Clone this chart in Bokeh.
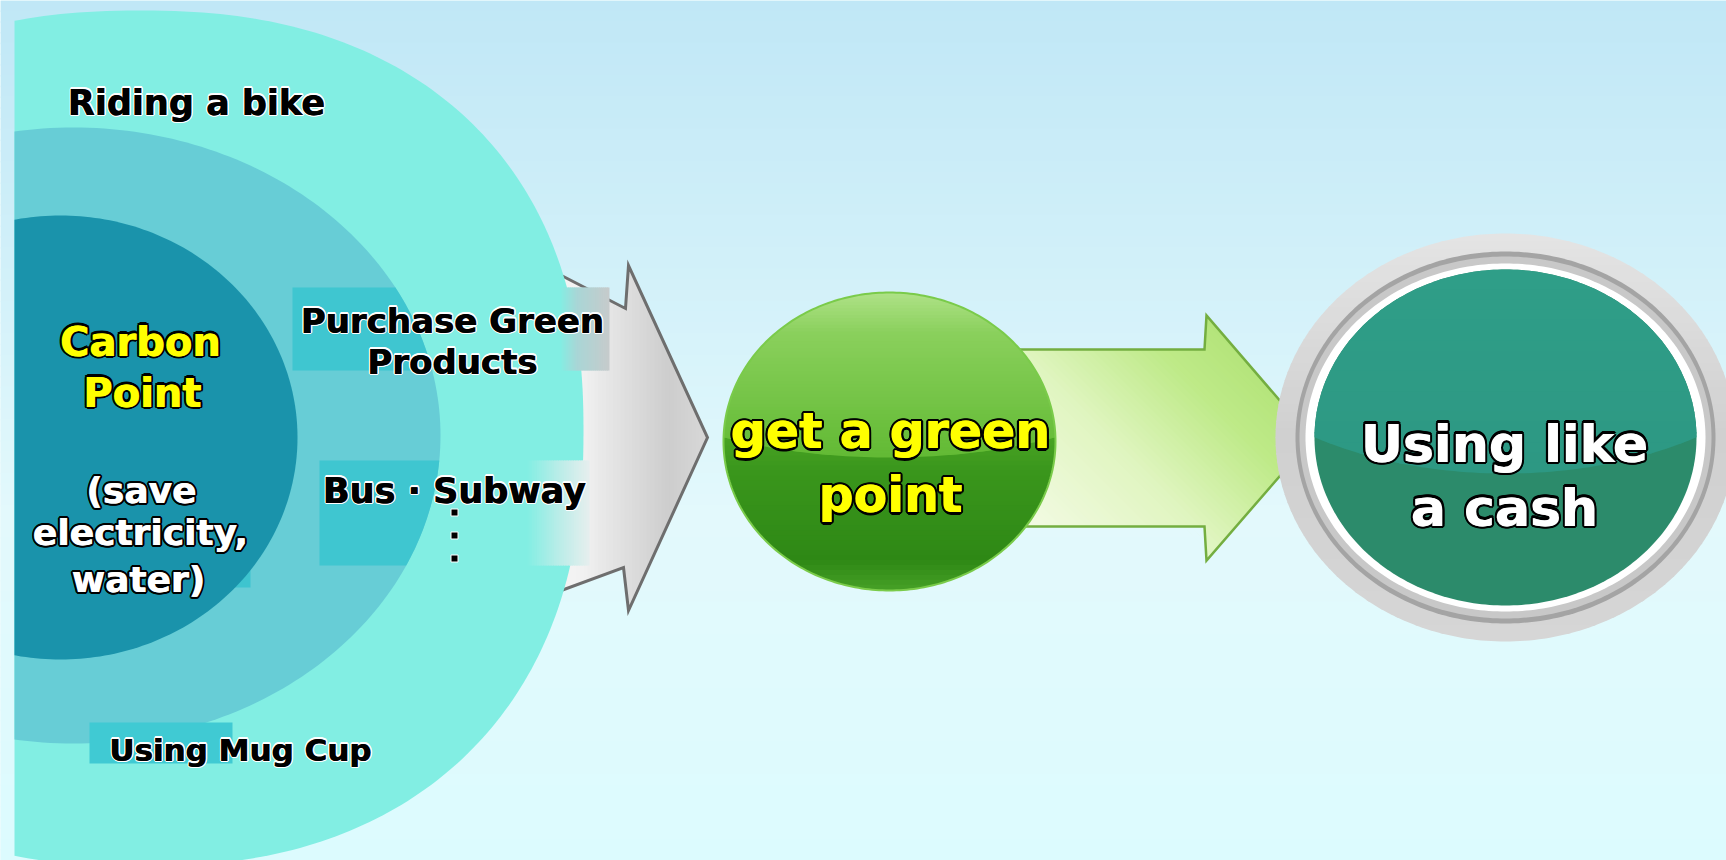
import numpy as np
from bokeh.plotting import figure
from bokeh.models import Range1d, ColumnDataSource
from bokeh.core.properties import value
from bokeh.embed import file_html
from bokeh.resources import INLINE

# ---------------- content ----------------
ring_labels = ["Riding a bike", "Purchase Green", "Products", "Bus · Subway", "Using Mug Cup"]
core_title = ["Carbon", "Point"]
core_note = ["(save", "electricity,", "water)"]
ball_label = ["get a green", "point"]
coin_label = ["Using like", "a cash"]

FONT = "DejaVu Sans"
W, H = 1726, 860
p = figure(width=W, height=H, x_range=Range1d(0, W), y_range=Range1d(H, 0),
           output_backend="svg", toolbar_location=None, min_border=0,
           x_axis_location=None, y_axis_location=None)
p.grid.visible = False
p.outline_line_color = None
p.background_fill_color = "#DDF8FC"
p.border_fill_color = "#DDF8FC"


# ---------------- helpers ----------------
def hex2rgb(h):
    h = h.lstrip('#')
    return np.array([int(h[i:i + 2], 16) for i in (0, 2, 4)], float)


def interp(stops, t):
    t = min(max(t, stops[0][0]), stops[-1][0])
    for i in range(len(stops) - 1):
        p0, c0 = stops[i]
        p1, c1 = stops[i + 1]
        if t <= p1:
            f = (t - p0) / (p1 - p0) if p1 > p0 else 0.0
            c = hex2rgb(c0) * (1 - f) + hex2rgb(c1) * f
            return '#%02x%02x%02x' % tuple(int(round(v)) for v in c)
    return stops[-1][1]


def signed_area(poly):
    a = 0.0
    for i in range(len(poly)):
        x1, y1 = poly[i]
        x2, y2 = poly[(i + 1) % len(poly)]
        a += x1 * y2 - x2 * y1
    return a / 2


def clip_poly(subject, clipper):
    sign = 1 if signed_area(clipper) > 0 else -1
    output = list(subject)
    n = len(clipper)
    for i in range(n):
        a = clipper[i]
        b = clipper[(i + 1) % n]
        inp = output
        output = []
        if not inp:
            break

        def inside(pt):
            return sign * ((b[0] - a[0]) * (pt[1] - a[1]) - (b[1] - a[1]) * (pt[0] - a[0])) >= 0

        def inter(p1, p2):
            x1, y1 = p1
            x2, y2 = p2
            x3, y3 = a
            x4, y4 = b
            den = (x1 - x2) * (y3 - y4) - (y1 - y2) * (x3 - x4)
            if abs(den) < 1e-12:
                return p2
            t = ((x1 - x3) * (y3 - y4) - (y1 - y3) * (x3 - x4)) / den
            return (x1 + t * (x2 - x1), y1 + t * (y2 - y1))

        s = inp[-1]
        for e in inp:
            if inside(e):
                if not inside(s):
                    output.append(inter(s, e))
                output.append(e)
            elif inside(s):
                output.append(inter(s, e))
            s = e
    return output


def oval(cx, cy, a, b, n=2.0, m=240, b_low=None):
    t = np.linspace(0, 2 * np.pi, m, endpoint=False)
    c, s = np.cos(t), np.sin(t)
    bb = np.where(s > 0, b if b_low is None else b_low, b)
    x = cx + a * np.sign(c) * np.abs(c) ** (2.0 / n)
    y = cy + bb * np.sign(s) * np.abs(s) ** (2.0 / n)
    return list(zip(x, y))


def box(x0, y0, x1, y1):
    return [(x0, y0), (x1, y0), (x1, y1), (x0, y1)]


def fill_gradient(poly, d, stops, nb=60, pad=0.7, alpha=1.0):
    d = np.array(d, float)
    d /= np.linalg.norm(d)
    perp = np.array([-d[1], d[0]])
    L = 6000.0
    pts = np.array(poly)
    s = pts @ d
    edges = np.linspace(s.min(), s.max(), nb + 1)
    xs, ys, cols = [], [], []
    for k in range(nb):
        a0, a1 = edges[k] - pad, edges[k + 1] + pad
        quad = [tuple(d * a0 + perp * L), tuple(d * a0 - perp * L),
                tuple(d * a1 - perp * L), tuple(d * a1 + perp * L)]
        c = clip_poly(poly, quad)
        if len(c) >= 3:
            xs.append([q[0] for q in c])
            ys.append([q[1] for q in c])
            cols.append(interp(stops, (k + 0.5) / nb))
    p.patches(xs, ys, fill_color=cols, fill_alpha=alpha, line_color=None)


def fill_flat(poly, color, alpha=1.0):
    p.patch([q[0] for q in poly], [q[1] for q in poly], fill_color=color, fill_alpha=alpha,
            line_color=None)


def stroke(poly, color, width):
    xs = [q[0] for q in poly] + [poly[0][0]]
    ys = [q[1] for q in poly] + [poly[0][1]]
    p.line(xs, ys, line_color=color, line_width=width, line_join="miter")


def outlined_text(xs, ys, texts, size, fill, outline, r):
    src = ColumnDataSource(dict(x=xs, y=ys, t=texts))
    kw = dict(x="x", y="y", text="t", text_font=value(FONT), text_font_style="bold",
              text_font_size=f"{size}px", text_align="center", text_baseline="alphabetic")
    for a in np.linspace(0, 2 * np.pi, 12, endpoint=False):
        p.text(source=src, text_color=outline, x_offset=float(np.cos(a) * r),
               y_offset=float(np.sin(a) * r), **kw)
    for dx in (-0.4, 0.4):
        p.text(source=src, text_color=fill, x_offset=dx, **kw)


# ---------------- background ----------------
fill_gradient(box(0, 0, 1726, 860), (0, 1),
              [(0, "#C0E7F6"), (0.3, "#D1F0F9"), (0.6, "#E3F9FC"), (1, "#DCFBFE")], nb=80)

# ---------------- grey arrow (behind rings) ----------------
grey_arrow = [(520, 254), (625, 308), (628, 265), (707, 437), (628, 610), (623, 567), (520, 605)]
fill_gradient(grey_arrow, (1, 0),
              [(0, "#F8F8F8"), (0.32, "#F2F2F2"), (0.55, "#E0E0E0"), (0.8, "#CDCDCD"), (1, "#D8D8D8")], nb=50)
stroke(grey_arrow, "#6E6E6E", 3)

# ---------------- concentric rings ----------------
left_cut = box(14, -50, 1726, 920)
outer = clip_poly(oval(140, 430, 443, 420, n=2.3, m=360, b_low=436), left_cut)
fill_flat(outer, "#82EEE3")
middle_full = oval(73, 435, 367, 308, m=300)
middle = clip_poly(middle_full, left_cut)
fill_flat(middle, "#67CDD6")

# text backing strips (they darken the middle ring, fade to grey over the arrow)
CYAN = "#3FC6D0"
fill_flat(clip_poly(box(292, 287, 609, 370), middle_full), CYAN)
fill_gradient(box(560, 287, 609, 370), (1, 0),
              [(0, "#82EEE3"), (0.35, "#A9D6D6"), (1, "#C6CBCC")], nb=25)
fill_flat(clip_poly(box(319, 460, 589, 565), middle_full), CYAN)
fill_gradient(box(527, 460, 589, 565), (1, 0),
              [(0, "#82EEE3"), (0.5, "#B8EDE8"), (1, "#E6EEEE")], nb=25)
fill_flat(box(89, 722, 232, 763), "#40CAD3")
fill_flat(box(29, 455, 250, 587), "#3EC4CF")

inner = clip_poly(oval(60, 437, 237, 222, m=300), left_cut)
fill_flat(inner, "#1A93AB")

# ---------------- green arrow ----------------
green_arrow = [(1015, 349), (1204, 349), (1206, 315), (1312, 438), (1206, 560), (1204, 526), (1015, 526)]
fill_gradient(green_arrow, (1, -1),
              [(0, "#F4FBE6"), (0.45, "#E0F5C0"), (0.8, "#BEEA88"), (1, "#B4E47A")], nb=60)
stroke(green_arrow, "#74AE40", 2.5)

# ---------------- green ball ----------------
ball = oval(889, 441, 166, 149, m=300)
fill_gradient(ball, (0, 1),
              [(0, "#7CC84A"), (0.45, "#4EA826"), (0.6, "#3A961C"), (0.9, "#2E8815"), (1, "#46A026")], nb=60)
ball_gloss = clip_poly(ball, oval(889, 335, 300, 122, m=300))
fill_gradient(ball_gloss, (0, 1),
              [(0, "#B0E288"), (0.25, "#8AD05C"), (1, "#62BA34")], nb=50)
stroke(ball, "#7ACB4A", 2)

# ---------------- coin ----------------
CX, CY = 1505, 437
fill_gradient(oval(CX, CY, 230, 204, m=300), (0, 1),
              [(0, "#E4E4E4"), (0.5, "#D0D0D0"), (1, "#D6D6D6")], nb=50)
fill_flat(oval(CX, CY, 210, 186, m=300), "#A4A4A4")
fill_flat(oval(CX, CY, 206, 181, m=300), "#C8C8C8")
fill_flat(oval(CX, CY, 200, 174, m=300), "#FFFFFF")
teal = oval(CX, CY, 191, 168, m=300)
fill_flat(teal, "#2C8B6B")
teal_gloss = clip_poly(teal, oval(CX, 300, 312, 173, m=300))
fill_gradient(teal_gloss, (0, 1), [(0, "#2F9E88"), (1, "#2D9883")], nb=20)

# ---------------- texts ----------------
outlined_text([196], [102], ring_labels[0:1], 35, "black", "white", 1.5)
outlined_text([452, 452], [320, 361], ring_labels[1:3], 34, "black", "white", 1.5)
outlined_text([454], [490], ring_labels[3:4], 35, "black", "white", 1.5)
outlined_text([240], [749], ring_labels[4:5], 31, "black", "white", 1.5)

# vertical ellipsis under "Bus · Subway"
p.scatter([454, 454, 454], [512, 535, 558], marker="square", size=7,
          fill_color="black", line_color="white", line_width=1)

outlined_text([140, 142], [341, 392], core_title, 40, "#FFFF00", "black", 2.3)
outlined_text([141, 140, 138], [490, 532, 579], core_note, 36, "white", "black", 2.3)
outlined_text([890, 890], [431, 495], ball_label, 49, "#FFFF00", "black", 2.5)
outlined_text([1504, 1504], [443, 507], coin_label, 52, "white", "black", 2.5)

open("out.html", "w").write(file_html(p, INLINE))
